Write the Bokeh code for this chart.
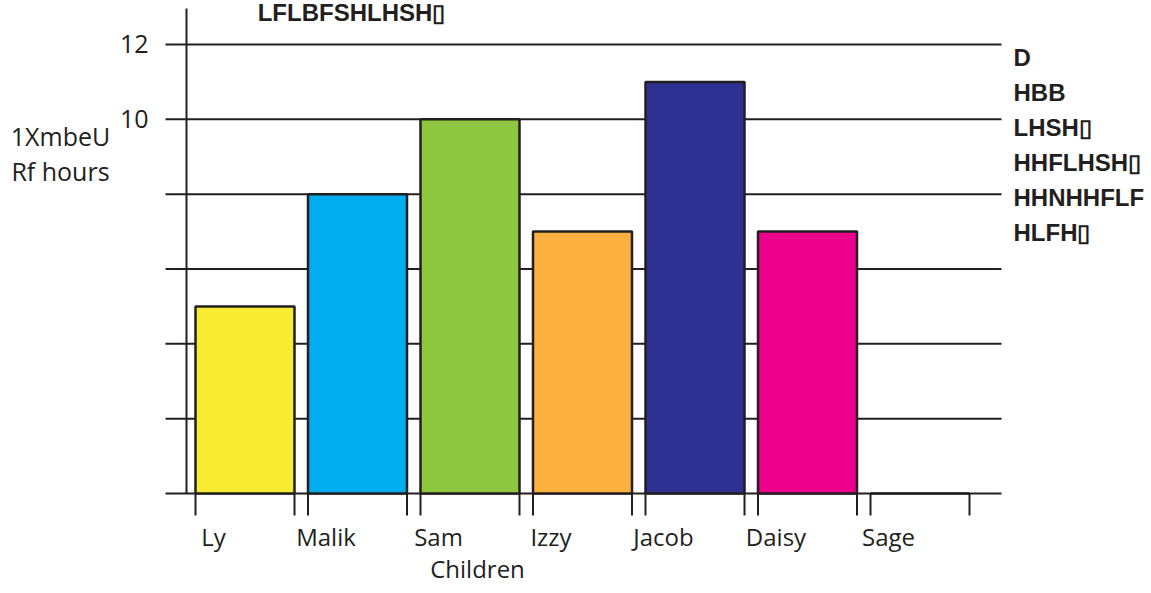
from bokeh.plotting import figure
from bokeh.models import Range1d, ColumnDataSource
from bokeh.core.properties import value
from bokeh.embed import file_html
from bokeh.resources import INLINE

# ---- data ----
children = ["Ly", "Malik", "Sam", "Izzy", "Jacob", "Daisy", "Sage"]
hours = [5, 8, 10, 7, 11, 7, 0]
colors = ["#f7ec31", "#00aeef", "#8dc63f", "#fbb040", "#2e3192", "#ec008c", "#ffffff"]
grid_values = [0, 2, 4, 6, 8, 10, 12]
tick_labels = ["12", "10"]
tick_values = [12, 10]
y_title = ["1XmbeU", "Rf hours"]
x_title = "Children"
title_text = "LFLBFSHLHSH\u25af"
side_texts = ["D", "HBB", "LHSH\u25af", "HHFLHSH\u25af", "HHNHHFLF", "HLFH\u25af"]

# ---- layout (pixel geometry of the canvas) ----
W, H = 1151, 593
X0, DX = 244.5, 112.5      # pixel of category 0 centre, pixels per category
Y0, DY = 493.0, 37.42      # pixel of value 0, pixels per unit

def xd(px):
    return (px - X0) / DX

def yd(py):
    return (Y0 - py) / DY

p = figure(width=W, height=H, output_backend="svg", toolbar_location=None,
           x_axis_location=None, y_axis_location=None, min_border=0,
           x_range=Range1d(xd(0), xd(W)), y_range=Range1d(yd(H), yd(0)))
p.grid.visible = False
p.outline_line_color = None
p.background_fill_color = "white"
p.border_fill_color = "white"

INK = "#231f20"
idx = list(range(len(children)))

# gridlines (including baseline)
p.segment(x0=[xd(165)] * len(grid_values), x1=[xd(1001)] * len(grid_values),
          y0=grid_values, y1=grid_values, line_color=INK, line_width=2)
# vertical axis line
p.segment(x0=[xd(186)], x1=[xd(186)], y0=[yd(8)], y1=[0], line_color=INK, line_width=2)

# bars
bw = 99 / DX
src = ColumnDataSource(dict(x=idx, top=hours, color=colors))
p.vbar(x="x", top="top", bottom=0, width=bw, source=src, fill_color="color",
       line_color=INK, line_width=2.5)

# category tick marks at bar edges
edges = []
for i in idx:
    edges += [i - bw / 2, i + bw / 2]
p.segment(x0=edges, x1=edges, y0=[0] * len(edges), y1=[yd(515)] * len(edges),
          line_color=INK, line_width=2)

FONT = value("Open Sans")
# category labels
p.text(x=[i - 0.28 for i in idx], y=[yd(536)] * len(idx), text=children,
       text_font=FONT, text_font_size="24px", text_color=INK,
       text_align="center", text_baseline="middle")
# x title
p.text(x=[xd(477)], y=[yd(568)], text=[x_title], text_font=FONT, text_font_size="24px",
       text_color=INK, text_align="center", text_baseline="middle")
# y tick labels
p.text(x=[xd(148)] * 2, y=tick_values, text=tick_labels, text_font=FONT,
       text_font_size="25px", text_color=INK, text_align="right", text_baseline="middle")
# y title
p.text(x=[xd(60)] * 2, y=[yd(135), yd(170)], text=y_title, text_font=FONT,
       text_font_size="25px", text_color=INK, text_align="center", text_baseline="middle")

BOLD = value("Liberation Sans")
# garbled title at top
p.text(x=[xd(351)], y=[yd(12)], text=[title_text], text_font=BOLD, text_font_size="24px",
       text_font_style="bold", text_color=INK, text_align="center", text_baseline="middle")
# garbled side texts
p.text(x=[xd(1013)] * len(side_texts), y=[yd(57 + 35 * k) for k in range(len(side_texts))],
       text=side_texts, text_font=BOLD, text_font_size="24px", text_font_style="bold",
       text_color=INK, text_align="left", text_baseline="middle")

open("out.html", "w").write(file_html(p, INLINE))
